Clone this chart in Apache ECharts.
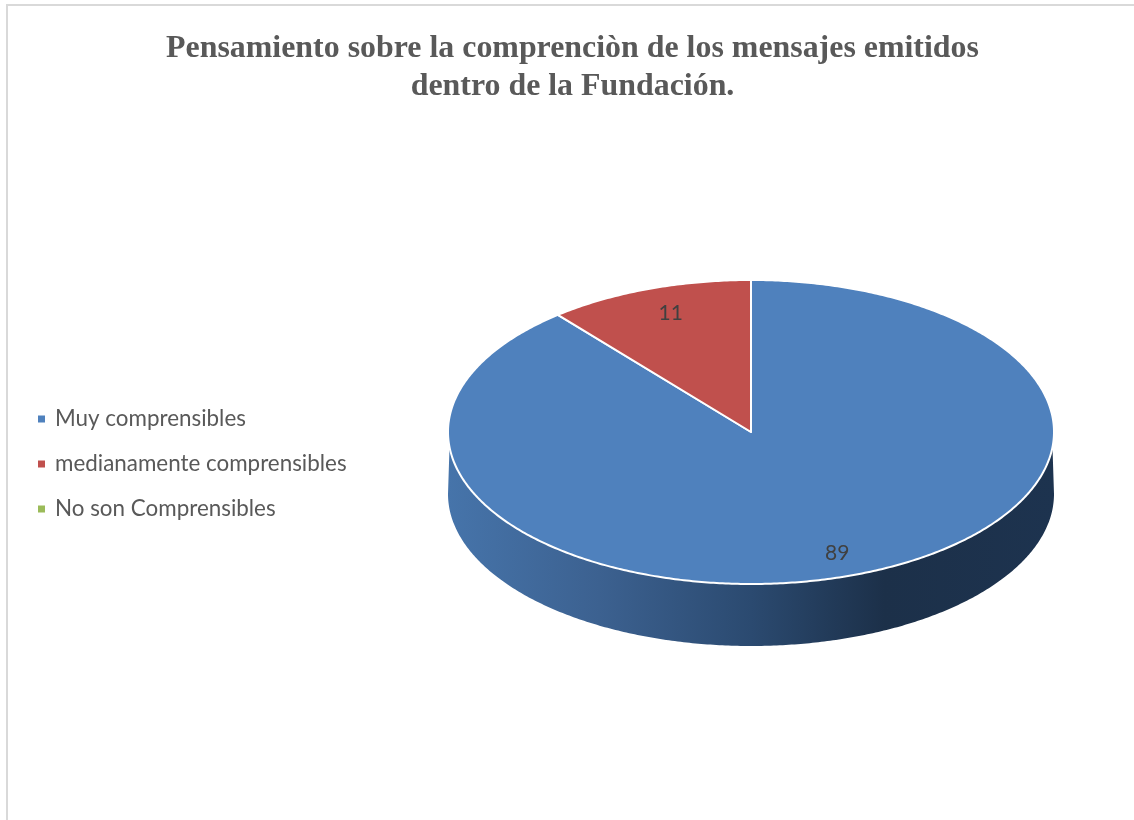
<!DOCTYPE html>
<html>
<head>
<meta charset="utf-8">
<style>
  html, body { margin: 0; padding: 0; background: #fff; }
  #chart { width: 1134px; height: 820px; }
</style>
<script src="https://cdn.jsdelivr.net/npm/echarts@6/dist/echarts.min.js"></script>
</head>
<body>
<div id="chart"></div>
<script>
// Survey answers, in drawing order (clockwise from twelve o'clock)
const categories = ['Muy comprensibles', 'medianamente comprensibles', 'No son Comprensibles'];
const values = [89, 11, 0];
const sliceColors = ['#4f81bd', '#c0504d', '#9bbb59'];
const titleLines = ['Pensamiento sobre la comprenciòn de los mensajes emitidos', 'dentro de la Fundación.'];

// Tilted-disc layout
const CX = 751, CY = 432, RX = 303, RY = 152, DEPTH = 62;
const WALL_TOP_INSET = 0.1;
const LABEL_RADIUS = 0.84;
const LABEL_NUDGE = [[0, 1.5], [6, 1], [0, 0]];
const FULL_TURN = Math.PI * 2;
const total = values.reduce((a, b) => a + b, 0);

function rimPoint(theta, drop) {
  return [CX + RX * Math.sin(theta), CY - RY * Math.cos(theta) + drop];
}

function arcPoints(from, to, drop) {
  const steps = Math.max(2, Math.ceil(Math.abs(to - from) / 0.01));
  const pts = [];
  for (let i = 0; i <= steps; i++) {
    pts.push(rimPoint(from + (to - from) * i / steps, drop));
  }
  return pts;
}

// One slice: side wall for the part of its arc facing the viewer, top face, value label
function renderSlice(index) {
  return function (params, api) {
    const value = api.value(0);
    const children = [];
    if (!value) return { type: 'group', children };
    const before = values.slice(0, index).reduce((a, b) => a + b, 0);
    const start = before / total * FULL_TURN;
    const end = (before + value) / total * FULL_TURN;

    const wallFrom = Math.max(start, Math.PI / 2);
    const wallTo = Math.min(end, Math.PI * 1.5);
    if (wallTo > wallFrom) {
      const topEdge = arcPoints(wallFrom + WALL_TOP_INSET, wallTo - WALL_TOP_INSET, 0);
      children.push({
        type: 'polygon',
        shape: { points: topEdge.concat(arcPoints(wallTo, wallFrom, DEPTH)) },
        style: {
          fill: new echarts.graphic.LinearGradient(1, 0, 0, 0, [
            { offset: 0, color: '#1d334f' },
            { offset: 0.28, color: '#1c3049' },
            { offset: 0.5, color: '#2b4a70' },
            { offset: 0.75, color: '#3c6190' },
            { offset: 1, color: '#4674aa' }
          ])
        }
      });
    }

    children.push({
      type: 'polygon',
      shape: { points: [[CX, CY]].concat(arcPoints(start, end, 0)) },
      style: { fill: sliceColors[index], stroke: '#ffffff', lineWidth: 2, lineJoin: 'round' }
    });

    const mid = (start + end) / 2;
    children.push({
      type: 'text',
      x: CX + RX * LABEL_RADIUS * Math.sin(mid) + LABEL_NUDGE[index][0],
      y: CY - RY * LABEL_RADIUS * Math.cos(mid) + LABEL_NUDGE[index][1],
      style: {
        text: String(value),
        font: '21px Lato',
        fill: '#404040',
        align: 'center',
        verticalAlign: 'middle'
      }
    });
    return { type: 'group', children };
  };
}

const chart = echarts.init(document.getElementById('chart'), null, { renderer: 'canvas' });
chart.setOption({
  animation: false,
  backgroundColor: '#ffffff',
  title: {
    text: titleLines.join('\n'),
    left: 567.5,
    top: 25,
    textAlign: 'center',
    textStyle: {
      fontFamily: 'Liberation Serif',
      fontWeight: 'bold',
      fontSize: 31.9,
      lineHeight: 38,
      color: '#595959'
    }
  },
  legend: {
    orient: 'vertical',
    left: 33,
    top: 403,
    icon: 'rect',
    itemWidth: 7,
    itemHeight: 7,
    itemGap: 23,
    selectedMode: false,
    data: categories,
    textStyle: {
      fontFamily: 'Lato',
      fontSize: 22.4,
      color: '#595959',
      padding: [0, 0, 0, 5]
    }
  },
  graphic: [{
    type: 'rect',
    silent: true,
    shape: { x: 7, y: 5, width: 1300, height: 1000 },
    style: { fill: 'none', stroke: '#d9d9d9', lineWidth: 2 },
    z: -1
  }],
  series: categories.map((name, i) => ({
    type: 'custom',
    name,
    coordinateSystem: 'none',
    silent: true,
    itemStyle: { color: sliceColors[i] },
    data: [[values[i]]],
    renderItem: renderSlice(i)
  }))
});
</script>
</body>
</html>
